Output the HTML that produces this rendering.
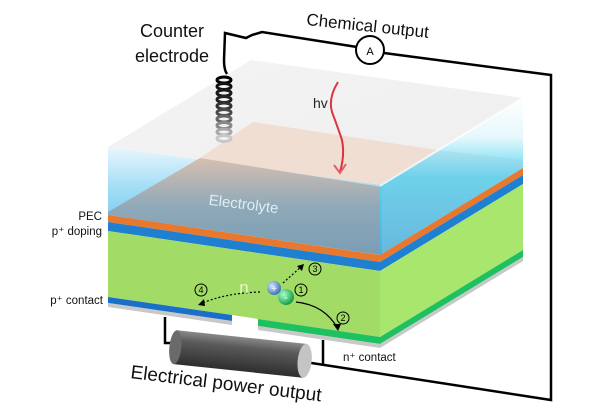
<!DOCTYPE html>
<html><head><meta charset="utf-8"><style>
html,body{margin:0;padding:0;background:#fff;width:600px;height:410px;overflow:hidden}
svg{display:block}
text{font-family:"Liberation Sans",sans-serif}
</style></head><body>
<svg width="600" height="410" viewBox="0 0 600 410" xmlns="http://www.w3.org/2000/svg">
<defs>
<linearGradient id="fl" x1="0" y1="0" x2="0" y2="1">
<stop offset="0" stop-color="#e8f6fc"/><stop offset="0.4" stop-color="#9fdcf6"/><stop offset="1" stop-color="#5cbde8"/></linearGradient>
<linearGradient id="pk" x1="0" y1="0" x2="0" y2="1">
<stop offset="0" stop-color="#d6bfb0"/><stop offset="0.5" stop-color="#8fa9b8"/><stop offset="1" stop-color="#7a9db5"/></linearGradient>
<linearGradient id="rf" x1="0" y1="0" x2="0" y2="1">
<stop offset="0" stop-color="#ffffff"/><stop offset="0.25" stop-color="#e6f8fc"/><stop offset="0.5" stop-color="#5ad6f2"/><stop offset="1" stop-color="#4fb0de"/></linearGradient>
<linearGradient id="top" x1="0" y1="0" x2="1" y2="1">
<stop offset="0" stop-color="#f4f4f4"/><stop offset="1" stop-color="#eeeeee"/></linearGradient>
<linearGradient id="cyl" x1="0" y1="0" x2="0" y2="1">
<stop offset="0" stop-color="#8a8a8a"/><stop offset="0.3" stop-color="#5a5a5a"/><stop offset="1" stop-color="#2e2e2e"/></linearGradient>
<radialGradient id="pl" cx="0.35" cy="0.35" r="0.7"><stop offset="0" stop-color="#cfe6ff"/><stop offset="1" stop-color="#3a6fb0"/></radialGradient>
<radialGradient id="mi" cx="0.35" cy="0.35" r="0.7"><stop offset="0" stop-color="#a8ffc8"/><stop offset="1" stop-color="#0a9a40"/></radialGradient>
</defs>

<polygon points="108,147 251,60 523,98 380,185" fill="url(#top)"/>
<polygon points="200,158 253,122 437,150 382,187" fill="#f1dccf" opacity="0.9"/>
<polygon points="108,147 380,185 380,255 108,215" fill="url(#fl)"/>
<polygon points="108,212 200,158 382,187 382,255 108,215" fill="url(#pk)"/>
<polygon points="380,185 523,98 523,168 380,255" fill="url(#rf)"/>
<polygon points="382,187 437,150 523,160 523,168 382,255" fill="#9fc9dc" opacity="0.3"/>
<line x1="380" y1="186" x2="523" y2="98" stroke="#fff" stroke-width="2" opacity="0.8"/>

<polygon points="108,215 380,255 380,262 108,222" fill="#e8782e"/>
<polygon points="380,255 523,168 523,175 380,262" fill="#e8782e"/>
<polygon points="108,222 380,262 380,271 108,231" fill="#1f7fd0"/>
<polygon points="380,262 523,175 523,184 380,271" fill="#1f7fd0"/>
<polygon points="108,231 380,271 380,337 258,319 232,315 108,297" fill="#a2dc66"/>
<polygon points="380,271 523,184 523,250 380,337" fill="#a8e66e"/>
<polygon points="108,297 232,315 232,321 108,303" fill="#1a70c8"/>
<polygon points="108,303 232,321 232,325 108,307" fill="#c8c8c8"/>
<polygon points="258,319 380,337 380,344 258,326" fill="#1fc060"/>
<polygon points="380,337 523,250 523,257 380,344" fill="#1fc060"/>
<polygon points="258,326 380,344 380,348 258,330" fill="#c8c8c8"/>
<polygon points="380,344 523,257 523,261 380,348" fill="#c8c8c8"/>

<path d="M227,74 Q224,70 224,60 L225,33 L246,38 L252,35 L262,32 L357,47" fill="none" stroke="#000" stroke-width="2.5"/>
<path d="M384,53 L551,75 L551,400 L305,362" fill="none" stroke="#000" stroke-width="2.5"/>
<circle cx="370" cy="50" r="14" fill="#fff" stroke="#000" stroke-width="2"/>
<text x="370" y="55" font-size="11" text-anchor="middle">A</text>
<path d="M165,317 L165,343 L178,343" fill="none" stroke="#000" stroke-width="2.5"/>
<line x1="323" y1="340" x2="323" y2="366" stroke="#000" stroke-width="2.5"/>

<g fill="none" stroke-width="3">
<ellipse cx="224" cy="80" rx="7" ry="3" stroke="#000"/>
<ellipse cx="224" cy="86.5" rx="7" ry="3" stroke="#111"/>
<ellipse cx="224" cy="93" rx="7" ry="3" stroke="#1a1a1a"/>
<ellipse cx="224" cy="99.5" rx="7" ry="3" stroke="#222"/>
<ellipse cx="224" cy="106" rx="7" ry="3" stroke="#333"/>
<ellipse cx="224" cy="112.5" rx="7" ry="3" stroke="#4a4a4a"/>
<ellipse cx="224" cy="119" rx="7" ry="3" stroke="#666"/>
<ellipse cx="224" cy="125.5" rx="7" ry="3" stroke="#888"/>
<ellipse cx="224" cy="132" rx="7" ry="3" stroke="#a8a8a8"/>
<ellipse cx="224" cy="138.5" rx="7" ry="3" stroke="#c8c8c8"/>
</g>

<path d="M338,82 Q328,98 332,112 Q338,128 342,140 Q345,155 340,172" fill="none" stroke="#d8202a" stroke-width="2" opacity="0.9"/>
<path d="M334,165 L340,173 L346,164" fill="none" stroke="#e06070" stroke-width="2"/>
<text x="313" y="108" font-size="14" fill="#222">hv</text>

<g transform="rotate(6 240 354)">
<rect x="175" y="337" width="130" height="34" fill="url(#cyl)"/>
<ellipse cx="175" cy="354" rx="6" ry="17" fill="#6a6a6a"/>
<ellipse cx="305" cy="354" rx="7" ry="17" fill="#c4c4c4"/>
</g>

<path d="M260,292 Q225,293 200,304" fill="none" stroke="#000" stroke-width="1.2" stroke-dasharray="2,2"/>
<path d="M198,305 L204,299 L205,306 Z" fill="#000"/>
<path d="M283,283 L302,266" fill="none" stroke="#000" stroke-width="1.2" stroke-dasharray="2,2"/>
<path d="M304,264 L297,266 L302,271 Z" fill="#000"/>
<path d="M296,302 Q325,305 338,329" fill="none" stroke="#000" stroke-width="1.3"/>
<path d="M338,331 L333,324 L341,324 Z" fill="#000"/>
<text x="244" y="293" font-size="17" fill="#e8f6c8" text-anchor="middle">n</text>
<circle cx="274" cy="288" r="7" fill="url(#pl)"/>
<text x="274" y="292" font-size="10" fill="#fff" text-anchor="middle">+</text>
<circle cx="286" cy="297" r="8" fill="url(#mi)"/>
<text x="286" y="301" font-size="11" fill="#fff" text-anchor="middle">-</text>
<g fill="none" stroke="#000" stroke-width="1"><circle cx="201" cy="290" r="6"/><circle cx="301" cy="290" r="6"/><circle cx="315" cy="269" r="6"/><circle cx="343" cy="318" r="6"/></g>
<g font-size="9" text-anchor="middle"><text x="201" y="293">4</text><text x="301" y="293">1</text><text x="315" y="272">3</text><text x="343" y="321">2</text></g>

<text x="172" y="37" font-size="18" text-anchor="middle" fill="#111">Counter</text>
<text x="172" y="62" font-size="18" text-anchor="middle" fill="#111">electrode</text>
<text transform="translate(306,25) rotate(6)" font-size="17" fill="#111">Chemical output</text>
<text transform="translate(243,209) rotate(7)" font-size="15" fill="#dceef6" text-anchor="middle">Electrolyte</text>
<text x="102" y="220" font-size="11.5" text-anchor="end" fill="#111">PEC</text>
<text x="102" y="235" font-size="11.5" text-anchor="end" fill="#111">p⁺ doping</text>
<text x="103" y="304" font-size="11.5" text-anchor="end" fill="#111">p⁺ contact</text>
<text x="343" y="361" font-size="11.5" fill="#111">n⁺ contact</text>
<text transform="translate(130,378) rotate(7)" font-size="19" fill="#111">Electrical power output</text>
</svg>
</body></html>
